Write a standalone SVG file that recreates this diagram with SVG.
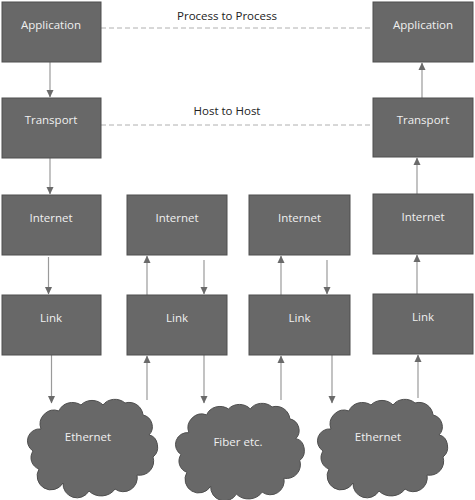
<svg xmlns="http://www.w3.org/2000/svg" width="475" height="500" viewBox="0 0 475 500">
<style>
.box{fill:#686868;stroke:#4e4e4e;stroke-width:1}
.lbl{font-family:"Open Sans","Liberation Sans",sans-serif;font-size:11.5px;fill:#f0f0f0;text-anchor:middle}
.cap{font-family:"Open Sans","Liberation Sans",sans-serif;font-size:11.5px;fill:#222;text-anchor:middle}
.arr{stroke:#9a9a9a;stroke-width:1.2;fill:none;marker-end:url(#ah)}
.dash{stroke:#b0b0b0;stroke-width:1;stroke-dasharray:5,3;fill:none}
.cloud{fill:#686868;stroke:#4e4e4e;stroke-width:1}
.inner{fill:none;stroke:#4e4e4e;stroke-width:0.8}
</style>
<defs>
<marker id="ah" markerUnits="userSpaceOnUse" markerWidth="8" markerHeight="8" viewBox="0 0 8 8" refX="7" refY="4" orient="auto">
<path d="M0,0.5 L7.5,4 L0,7.5 Z" fill="#6a6a6a"/>
</marker>
<path id="cl" d="M12,30 A14,14 0 0 1 30,12 A14,12 0 0 1 52,6 A14,12 0 0 1 74,6 A14,12 0 0 1 96,4 A14,14 0 0 1 114,16 A12,12 0 0 1 120,36 A10,12 0 0 1 124,58 A14,14 0 0 1 108,76 A14,14 0 0 1 86,90 A16,14 0 0 1 60,92 A14,14 0 0 1 34,84 A12,12 0 0 1 10,70 A12,12 0 0 1 4,52 A12,12 0 0 1 12,30 Z"/>
</defs>
<rect width="475" height="500" fill="#ffffff"/>
<g id="connectors">
<line class="dash" x1="101" y1="28" x2="373" y2="28"/>
<line class="dash" x1="101" y1="125" x2="373" y2="125"/>
<line class="arr" x1="50" y1="62" x2="50" y2="97"/>
<line class="arr" x1="50" y1="158" x2="50" y2="194"/>
<line class="arr" x1="48.5" y1="257" x2="48.5" y2="294"/>
<line class="arr" x1="51.5" y1="355" x2="51.5" y2="403"/>
<line class="arr" x1="147" y1="295" x2="147" y2="256"/>
<line class="arr" x1="204" y1="260" x2="204" y2="294"/>
<line class="arr" x1="147" y1="400" x2="147" y2="356"/>
<line class="arr" x1="204" y1="355" x2="204" y2="403"/>
<line class="arr" x1="281" y1="295" x2="281" y2="256"/>
<line class="arr" x1="327" y1="260" x2="327" y2="294"/>
<line class="arr" x1="281" y1="400" x2="281" y2="356"/>
<line class="arr" x1="332" y1="355" x2="332" y2="403"/>
<line class="arr" x1="417" y1="294" x2="417" y2="255"/>
<line class="arr" x1="418" y1="398" x2="418" y2="355"/>
<line class="arr" x1="417" y1="194" x2="417" y2="158"/>
<line class="arr" x1="422" y1="98" x2="422" y2="63"/>
</g>
<text class="cap" x="227" y="20">Process to Process</text>
<text class="cap" x="227" y="115">Host to Host</text>
<g id="app1"><rect class="box" x="2" y="2" width="99" height="60"/><text class="lbl" x="51" y="29">Application</text></g>
<g id="trans1"><rect class="box" x="2" y="98" width="99" height="60"/><text class="lbl" x="51" y="124">Transport</text></g>
<g id="inet1"><rect class="box" x="2" y="195" width="99" height="60"/><text class="lbl" x="51" y="222">Internet</text></g>
<g id="link1"><rect class="box" x="2" y="295" width="99" height="60"/><text class="lbl" x="51" y="322">Link</text></g>
<g id="inet2"><rect class="box" x="127" y="195" width="100" height="60"/><text class="lbl" x="177" y="222">Internet</text></g>
<g id="link2"><rect class="box" x="127" y="295" width="100" height="60"/><text class="lbl" x="177" y="322">Link</text></g>
<g id="inet3"><rect class="box" x="249" y="195" width="101" height="60"/><text class="lbl" x="299.5" y="222">Internet</text></g>
<g id="link3"><rect class="box" x="249" y="295" width="101" height="60"/><text class="lbl" x="299.5" y="322">Link</text></g>
<g id="app2"><rect class="box" x="373" y="2" width="100" height="60"/><text class="lbl" x="423" y="29">Application</text></g>
<g id="trans2"><rect class="box" x="373" y="98" width="100" height="59"/><text class="lbl" x="423" y="124">Transport</text></g>
<g id="inet4"><rect class="box" x="373" y="194" width="100" height="60"/><text class="lbl" x="423" y="221">Internet</text></g>
<g id="link4"><rect class="box" x="373" y="294" width="100" height="60"/><text class="lbl" x="423" y="321">Link</text></g>
<g id="cloud1"><use href="#cl" class="cloud" transform="translate(29,399)"/><text class="lbl" x="88" y="441">Ethernet</text></g>
<g id="cloud2"><use href="#cl" class="cloud" transform="translate(177,403) scale(0.99,0.99)"/><text class="lbl" x="238" y="446">Fiber etc.</text></g>
<g id="cloud3"><use href="#cl" class="cloud" transform="translate(319,399)"/><text class="lbl" x="378" y="441">Ethernet</text></g>
</svg>
